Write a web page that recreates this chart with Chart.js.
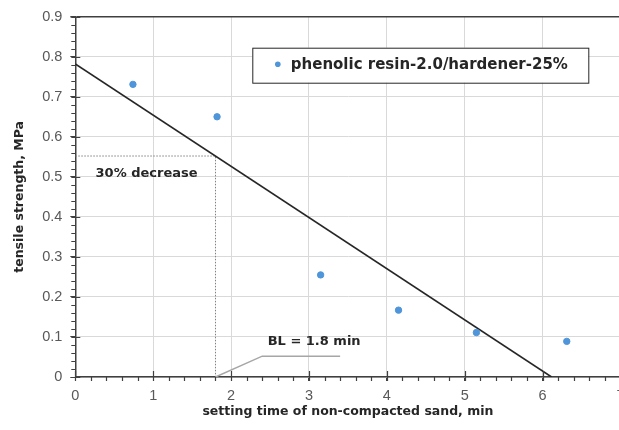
<!DOCTYPE html>
<html>
<head>
<meta charset="utf-8">
<script src="https://cdn.jsdelivr.net/npm/chart.js@4"></script>
<style>
  html, body { margin: 0; padding: 0; background: #fff; overflow: hidden; }
  #wrap { width: 640px; height: 430px; }
</style>
</head>
<body>
<div id="wrap"><canvas id="chart" width="640" height="430"></canvas></div>
<script>
// measured points
const timeMin = [0.74, 1.82, 3.15, 4.15, 5.15, 6.31];
const strengthMPa = [0.731, 0.650, 0.255, 0.167, 0.111, 0.089];
const seriesLabel = 'phenolic resin-2.0/hardener-25%';

// linear trend line (ends)
const trendX = [0, 6.115];
const trendY = [0.782, 0];

// dotted guide for the 30% decrease
const guideX = [0, 1.8, 1.8];
const guideY = [0.552, 0.552, 0];

// leader line for the BL label
const leaderX = [1.8, 2.4, 3.4];
const leaderY = [0, 0.052, 0.052];

// text notes
const noteText = ['30% decrease', 'BL = 1.8 min'];
const noteX = [0.26, 2.47];
const noteY = [0.507, 0.0895];

// axes
const xMin = 0, xMax = 7, xStep = 1, xMinor = 0.2;
const yMin = 0, yMax = 0.9, yStep = 0.1, yMinor = 0.02;

const toPoints = (xs, ys) => xs.map((x, i) => ({ x: x, y: ys[i] }));

const BOLD = "'DejaVu Sans', sans-serif";

// minor ticks + inner half of major ticks
const ticksPlugin = {
    id: 'minorTicks',
    afterDraw(chart) {
        const ctx = chart.ctx;
        const xs = chart.scales.x, ys = chart.scales.y;
        const area = chart.chartArea;
        ctx.save();
        ctx.strokeStyle = '#404040';
        ctx.lineWidth = 1.2;
        ctx.beginPath();
        for (let v = xMin; v <= xMax + 1e-9; v += xMinor) {
            const px = Math.round(xs.getPixelForValue(v)) + 0.5;
            const major = Math.abs(v - Math.round(v)) < 1e-6;
            ctx.moveTo(px, area.bottom);
            ctx.lineTo(px, area.bottom + 4);
            if (major) {
                ctx.moveTo(px, area.bottom);
                ctx.lineTo(px, area.bottom - 6);
            }
        }
        for (let v = yMin; v <= yMax + 1e-9; v += yMinor) {
            const py = Math.round(ys.getPixelForValue(v)) + 0.5;
            const major = Math.abs(v * 10 - Math.round(v * 10)) < 1e-6;
            ctx.moveTo(area.left, py);
            ctx.lineTo(area.left - 4, py);
            if (major) {
                ctx.moveTo(area.left, py);
                ctx.lineTo(area.left + 5, py);
            }
        }
        ctx.stroke();
        ctx.restore();
    }
};

// text notes and the boxed legend
const notesPlugin = {
    id: 'notes',
    afterDatasetsDraw(chart) {
        const ctx = chart.ctx;
        const xs = chart.scales.x, ys = chart.scales.y;
        const area = chart.chartArea;
        ctx.save();
        ctx.fillStyle = '#262626';
        ctx.font = 'bold 13px ' + BOLD;
        ctx.textAlign = 'left';
        ctx.textBaseline = 'middle';
        noteText.forEach((t, i) => {
            ctx.fillText(t, xs.getPixelForValue(noteX[i]), ys.getPixelForValue(noteY[i]));
        });

        // legend box
        const bx = area.left + 177, by = area.top + 31, bw = 336, bh = 35;
        ctx.fillStyle = '#ffffff';
        ctx.fillRect(bx, by, bw, bh);
        ctx.strokeStyle = '#262626';
        ctx.lineWidth = 1;
        ctx.strokeRect(bx + 0.5, by + 0.5, bw, bh);
        const ds = chart.data.datasets[0];
        ctx.fillStyle = ds.backgroundColor;
        ctx.beginPath();
        ctx.arc(bx + 25.5, by + 16.5, 2.8, 0, Math.PI * 2);
        ctx.fill();
        ctx.fillStyle = '#262626';
        ctx.font = 'bold 15px ' + BOLD;
        ctx.fillText(ds.label, bx + 38.5, by + 17);
        ctx.restore();
    }
};

new Chart(document.getElementById('chart'), {
    type: 'scatter',
    data: {
        datasets: [
            {
                label: seriesLabel,
                data: toPoints(timeMin, strengthMPa),
                backgroundColor: '#4e95d9',
                borderColor: '#4e95d9',
                pointRadius: 3.2,
                order: 0
            },
            {
                label: 'trend',
                data: toPoints(trendX, trendY),
                showLine: true,
                borderColor: '#262626',
                borderWidth: 1.6,
                pointRadius: 0,
                order: 1
            },
            {
                label: 'guide',
                data: toPoints(guideX, guideY),
                showLine: true,
                borderColor: '#808080',
                borderWidth: 1,
                borderDash: [1.5, 1.5],
                pointRadius: 0,
                order: 2
            },
            {
                label: 'leader',
                data: toPoints(leaderX, leaderY),
                showLine: true,
                borderColor: '#a6a6a6',
                borderWidth: 1.5,
                pointRadius: 0,
                order: 3
            }
        ]
    },
    options: {
        responsive: false,
        animation: false,
        layout: { padding: { top: 15, right: 19.5, left: 0, bottom: 0 } },
        plugins: {
            legend: { display: false },
            tooltip: { enabled: false }
        },
        scales: {
            x: {
                type: 'linear',
                min: xMin,
                max: xMax,
                afterFit: s => { s.height = 53; },
                ticks: {
                    stepSize: xStep,
                    padding: 6,
                    color: '#595959',
                    font: { family: "'Liberation Sans', Arial, sans-serif", size: 14.5 }
                },
                grid: {
                    color: '#d9d9d9',
                    lineWidth: 1,
                    tickColor: '#404040',
                    tickLength: 4
                },
                border: { color: '#404040', width: 1.5 },
                title: {
                    display: true,
                    text: 'setting time of non-compacted sand, min',
                    color: '#262626',
                    font: { family: BOLD, size: 12.5, weight: 'bold' },
                    padding: { top: 0, bottom: 11 }
                }
            },
            y: {
                type: 'linear',
                min: yMin,
                max: yMax,
                afterFit: s => { s.width = 75.3; },
                ticks: {
                    stepSize: yStep,
                    padding: 8,
                    color: '#595959',
                    font: { family: "'Liberation Sans', Arial, sans-serif", size: 14.5 }
                },
                grid: {
                    color: c => (c.tick && c.tick.value >= yMax - 1e-9) ? '#404040' : '#d9d9d9',
                    lineWidth: c => (c.tick && c.tick.value >= yMax - 1e-9) ? 1.5 : 1,
                    tickColor: '#404040',
                    tickLength: 5
                },
                border: { color: '#404040', width: 1.5 },
                title: {
                    display: true,
                    text: 'tensile strength, MPa',
                    color: '#262626',
                    font: { family: BOLD, size: 12.5, weight: 'bold' },
                    padding: { top: 12, bottom: 0 }
                }
            }
        }
    },
    plugins: [ticksPlugin, notesPlugin]
});
</script>
</body>
</html>
